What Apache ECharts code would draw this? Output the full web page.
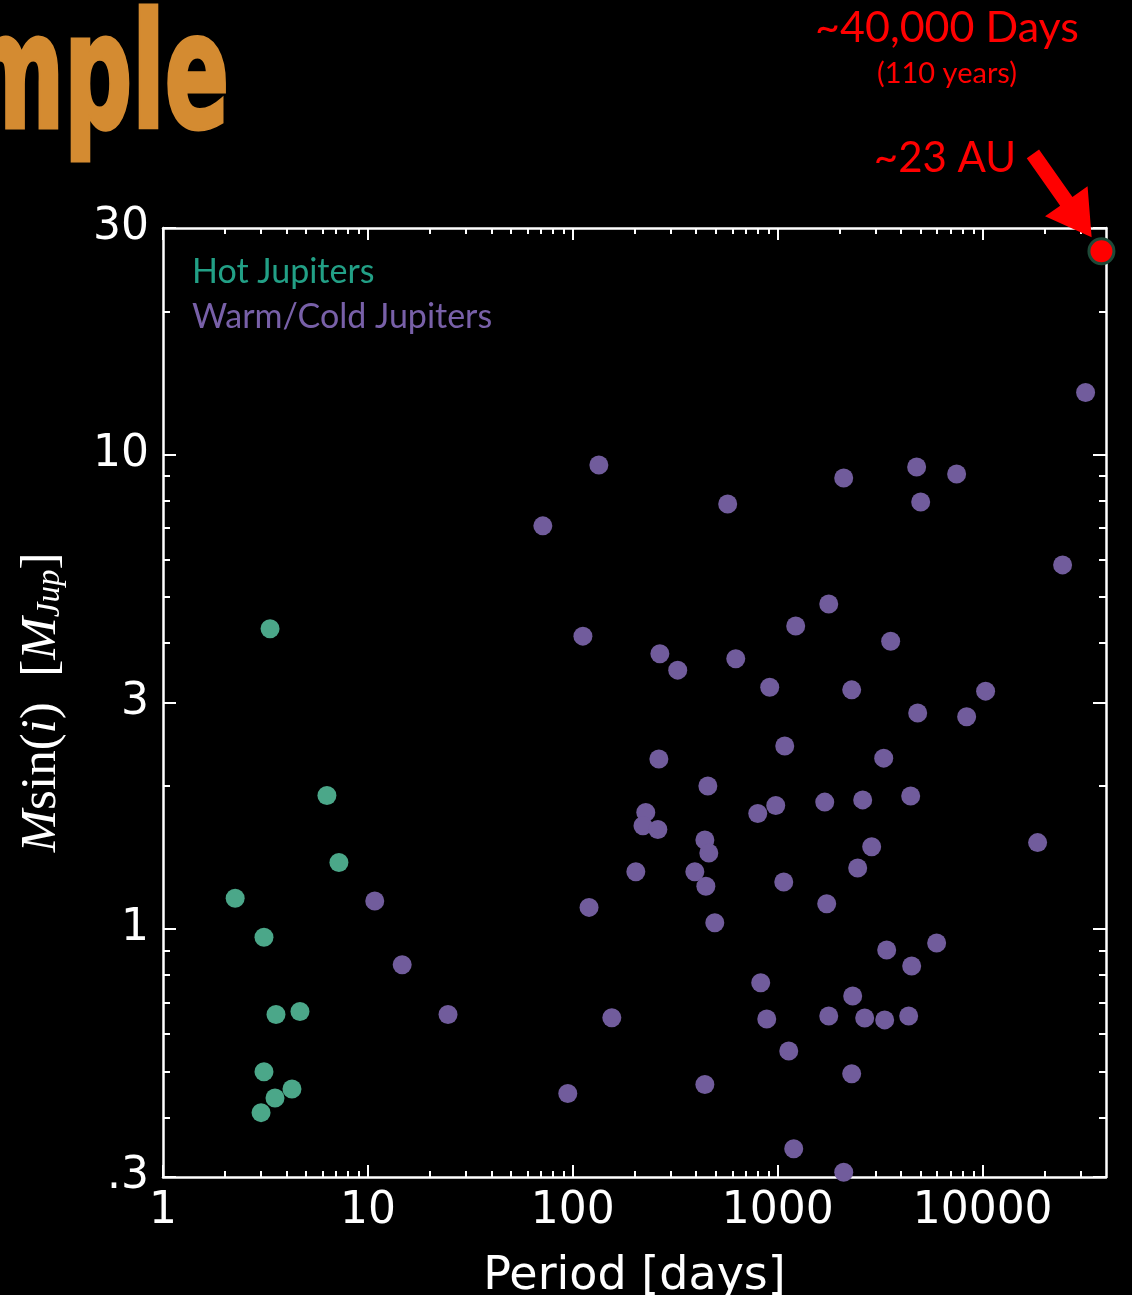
<!DOCTYPE html>
<html>
<head>
<meta charset="utf-8">
<title>Msin(i) vs Period</title>
<script src="https://cdn.jsdelivr.net/npm/echarts@6/dist/echarts.min.js"></script>
<style>
  html, body { margin: 0; padding: 0; background: #000; }
  #chart { width: 1132px; height: 1295px; }
</style>
</head>
<body>
<div id="chart"></div>
<script>
// orbital period [days] and Msin(i) [M_Jup]
const hotPeriod = [3.33, 6.31, 7.22, 2.25, 3.11, 3.56, 4.66, 3.11, 3.52, 4.26, 3.01]
const hotMass   = [4.29, 1.91, 1.38, 1.16, 0.96, 0.66, 0.67, 0.50, 0.44, 0.46, 0.41]

const warmPeriod = [10.8, 14.7, 24.6, 71.4, 134, 112, 120, 94.5, 155, 266, 325, 263, 227, 220, 260, 203,
  570, 624, 456, 441, 461, 394, 446, 493, 441, 826, 884, 914, 1082, 978, 799, 1070, 1132, 1224, 1197,
  1774, 1696, 1734, 1774, 2099, 2099, 2296, 2296, 2322, 2456, 2598, 2657, 2874, 3290, 3402, 3326, 3558,
  4355, 4505, 4455, 4764, 4820, 4985, 5965, 7467, 8356, 10340, 18550, 24560, 31800]
const warmMass = [1.145, 0.84, 0.66, 7.07, 9.50, 4.14, 1.11, 0.45, 0.65, 3.80, 3.51, 2.28, 1.76, 1.65, 1.62, 1.32,
  7.86, 3.71, 2.00, 1.54, 1.445, 1.32, 1.23, 1.03, 0.47, 0.77, 0.646, 3.23, 2.43, 1.82, 1.75, 1.255, 0.553, 4.35, 0.344,
  4.84, 1.85, 1.13, 0.655, 8.92, 0.307, 3.19, 0.495, 0.722, 1.344, 1.87, 0.649, 1.49, 2.29, 0.903, 0.643, 4.04,
  0.655, 0.835, 1.906, 9.41, 2.85, 7.94, 0.934, 9.09, 2.80, 3.17, 1.52, 5.85, 13.5]

// the ~40,000 day planet
const farPeriod = [38000]
const farMass = [26.8]

// tick values
const xMajorTicks = [1, 10, 100, 1000, 10000]
const xMinorTicks = [2, 3, 4, 5, 6, 7, 8, 9, 20, 30, 40, 50, 60, 70, 80, 90,
  200, 300, 400, 500, 600, 700, 800, 900, 2000, 3000, 4000, 5000, 6000, 7000, 8000, 9000, 20000, 30000]
const yMajorTicks = [0.3, 1, 3, 10, 30]
const yMinorTicks = [0.4, 0.5, 0.6, 0.7, 0.8, 0.9, 2, 4, 5, 6, 7, 8, 9, 20]

const WHITE = '#ffffff'
const HOT = '#4ba789'
const WARM = '#715c9c'

function zip(a, b) {
  return a.map((v, i) => [v, b[i]])
}

// one log axis; several are stacked on each side to get long and short ticks
function makeAxis(dim, pos, ticks, len, main) {
  return {
    type: 'log',
    logBase: 10,
    min: dim === 'x' ? 1 : 0.3,
    max: dim === 'x' ? 40000 : 30,
    position: pos,
    splitLine: { show: false },
    axisLine: { show: main, onZero: false, lineStyle: { color: WHITE, width: 2.5 } },
    axisTick: { show: true, inside: true, length: len, customValues: ticks, lineStyle: { color: WHITE, width: 2 } },
    axisLabel: { show: false }
  }
}

let xBottom = makeAxis('x', 'bottom', xMajorTicks, 12, true)
xBottom.axisLabel = {
  show: true, customValues: xMajorTicks, color: WHITE, fontFamily: 'DejaVu Sans', fontSize: 44, margin: 13,
  formatter: v => String(v)
}
xBottom.name = 'Period [days]'
xBottom.nameLocation = 'middle'
xBottom.nameGap = 77
xBottom.nameTextStyle = { color: WHITE, fontFamily: 'DejaVu Sans', fontSize: 46 }

let yLeft = makeAxis('y', 'left', yMajorTicks, 13, true)
yLeft.axisLabel = {
  show: true, customValues: yMajorTicks, color: WHITE, fontFamily: 'DejaVu Sans', fontSize: 44, margin: 14,
  formatter: v => (v < 1 ? String(v).replace(/^0/, '') : String(v))
}
yLeft.name = '{it|M}{rm|sin(}{it|i}{rm|)  [}{it|M}{sub|Jup}{rm|]}'
yLeft.nameLocation = 'middle'
yLeft.nameRotate = 90
yLeft.nameGap = 96
yLeft.nameTextStyle = {
  color: WHITE,
  rich: {
    it: { fontFamily: 'Liberation Serif', fontStyle: 'italic', fontSize: 51, color: WHITE },
    rm: { fontFamily: 'Liberation Serif', fontSize: 51, color: WHITE },
    sub: { fontFamily: 'Liberation Serif', fontStyle: 'italic', fontSize: 33, color: WHITE, verticalAlign: 'bottom' }
  }
}

const option = {
  backgroundColor: '#000000',
  animation: false,
  grid: { left: 163, top: 228, right: 26, bottom: 118, containLabel: false, outerBoundsMode: 'none' },
  legend: {
    left: 182,
    top: 245,
    orient: 'vertical',
    icon: 'none',
    itemWidth: 0,
    itemHeight: 0,
    itemGap: 0,
    selectedMode: false,
    textStyle: { fontFamily: 'Lato', fontSize: 34, lineHeight: 45 },
    data: [
      { name: 'Hot Jupiters', textStyle: { color: '#22a086' } },
      { name: 'Warm/Cold Jupiters', textStyle: { color: '#7860a8' } }
    ]
  },
  xAxis: [
    xBottom,
    makeAxis('x', 'bottom', xMinorTicks, 6, false),
    makeAxis('x', 'top', xMajorTicks, 12, true),
    makeAxis('x', 'top', xMinorTicks, 6, false)
  ],
  yAxis: [
    yLeft,
    makeAxis('y', 'left', yMinorTicks, 7, false),
    makeAxis('y', 'right', yMajorTicks, 13, true),
    makeAxis('y', 'right', yMinorTicks, 7, false)
  ],
  series: [
    {
      name: 'Hot Jupiters',
      type: 'scatter',
      symbolSize: 19,
      itemStyle: { color: HOT, opacity: 1 },
      data: zip(hotPeriod, hotMass)
    },
    {
      name: 'Warm/Cold Jupiters',
      type: 'scatter',
      symbolSize: 19,
      itemStyle: { color: WARM, opacity: 1 },
      data: zip(warmPeriod, warmMass)
    },
    {
      name: 'far',
      type: 'scatter',
      symbolSize: 25,
      clip: false,
      itemStyle: { color: '#ff0000', borderColor: '#1d4a38', borderWidth: 3, opacity: 1 },
      data: zip(farPeriod, farMass)
    }
  ]
}

const chart = echarts.init(document.getElementById('chart'))
chart.setOption(option)

// arrow pointing at the far planet, placed from its pixel position
const c = chart.convertToPixel({ xAxisIndex: 0, yAxisIndex: 0 }, [farPeriod[0], farMass[0]])
const d = [0.576, 0.818]
const n = [-0.818, 0.576]
const tip = [c[0] - d[0] * 17, c[1] - d[1] * 17]
const at = (along, side) => [tip[0] - d[0] * along + n[0] * side, tip[1] - d[1] * along + n[1] * side]
const arrowPts = [at(102, 7.5), at(44, 7.5), at(44, 26), at(0, 0), at(44, -26), at(44, -7.5), at(102, -7.5)]

const RED = '#ff0000'
chart.setOption({
  graphic: [
    {
      type: 'text', x: 229, y: 86, scaleX: 0.6,
      style: {
        text: 'Sample', x: 0, y: 0, align: 'right', verticalAlign: 'middle',
        font: 'bold 158px "DejaVu Sans"', fill: '#d48b31', stroke: '#d48b31', lineWidth: 5
      }
    },
    {
      type: 'text', x: 947, y: 28,
      style: { text: '~40,000 Days', align: 'center', verticalAlign: 'middle', font: '43px Lato', fill: RED }
    },
    {
      type: 'text', x: 947, y: 74,
      style: { text: '(110 years)', align: 'center', verticalAlign: 'middle', font: '29px Lato', fill: RED }
    },
    {
      type: 'text', x: 945, y: 158,
      style: { text: '~23 AU', align: 'center', verticalAlign: 'middle', font: '42px Lato', fill: RED }
    },
    {
      type: 'polygon', shape: { points: arrowPts }, style: { fill: RED }, z: 10
    }
  ]
})
</script>
</body>
</html>
